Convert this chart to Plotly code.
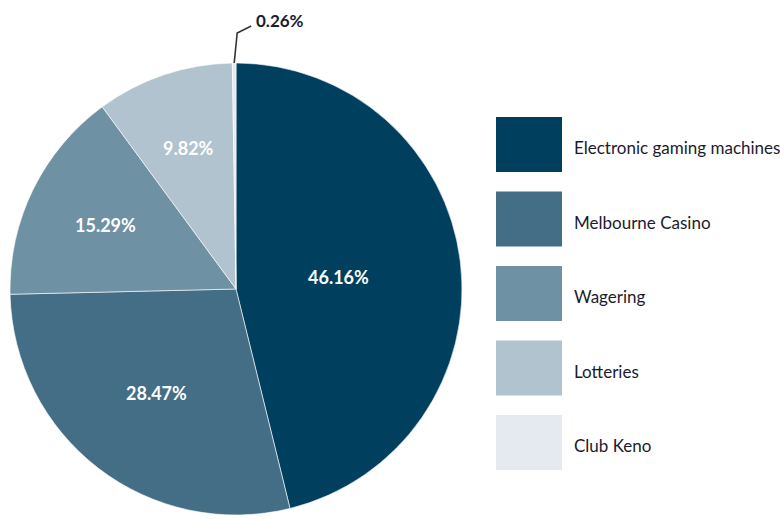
import math
import plotly.graph_objects as go

categories = ["Electronic gaming machines", "Melbourne Casino", "Wagering", "Lotteries", "Club Keno"]
shares = [46.16, 28.47, 15.29, 9.82, 0.26]
colors = ["#003f5e", "#436e86", "#6e91a4", "#b1c3ce", "#e4eaef"]

W, H = 780, 519
CX, CY, R = 236, 289, 226  # pie centre / radius in pixels

total = sum(shares)

fig = go.Figure()
fig.add_trace(go.Pie(
    labels=categories, values=shares, sort=False, direction="clockwise", rotation=0,
    marker=dict(colors=colors, line=dict(color="white", width=0.6)),
    textinfo="none",
    domain=dict(x=[(CX - R) / W, (CX + R) / W], y=[(H - CY - R) / H, (H - CY + R) / H]),
    showlegend=False, hoverinfo="label+value",
))

shapes, annotations = [], []
# percentage labels at slice centroids (computed from the data)
cum = 0.0
for v in shares:
    theta = v / total * 2 * math.pi
    mid = (cum + v / 2) / total * 2 * math.pi
    cum += v
    if v < 1:
        # leader line for the tiny slice
        x0 = CX + R * math.sin(mid)
        y0 = CY - R * math.cos(mid)
        shapes.append(dict(type="path", xref="x", yref="y",
                           path=f"M {x0:.1f},{y0:.1f} L {x0+3:.1f},{y0-30:.1f} L {x0+17:.1f},{y0-37:.1f}",
                           line=dict(color="#333333", width=1.6)))
        annotations.append(dict(x=x0 + 20, y=y0 - 43, xref="x", yref="y", text=f"{v:.2f}%",
                                showarrow=False, xanchor="left", yanchor="middle",
                                font=dict(family="Lato", size=17, color="#1b1b2e", weight="bold")))
        continue
    d = R * (4 * math.sin(theta / 2)) / (3 * theta)
    annotations.append(dict(x=CX + d * math.sin(mid), y=CY - d * math.cos(mid), xref="x", yref="y",
                            text=f"{v:.2f}%", showarrow=False, xanchor="center", yanchor="middle",
                            font=dict(family="Lato", size=18, color="white", weight="bold")))

# custom legend with large swatches
LX0, LX1, LY0, LSTEP, LH = 496, 562, 117, 74.5, 55
for i, (cat, col) in enumerate(zip(categories, colors)):
    top = LY0 + i * LSTEP
    shapes.append(dict(type="rect", xref="x", yref="y", x0=LX0, x1=LX1, y0=top, y1=top + LH,
                       fillcolor=col, line=dict(width=0)))
    annotations.append(dict(x=572, y=top + LH / 2 + 3, xref="x", yref="y", text=cat,
                            showarrow=False, xanchor="left", yanchor="middle",
                            font=dict(family="Lato", size=17, color="#1b1b2e")))

fig.update_layout(
    width=W, height=H, margin=dict(l=0, r=0, t=0, b=0),
    paper_bgcolor="white", plot_bgcolor="white",
    xaxis=dict(range=[0, W], visible=False, domain=[0, 1], fixedrange=True),
    yaxis=dict(range=[H, 0], visible=False, domain=[0, 1], fixedrange=True),
    shapes=shapes, annotations=annotations,
)
fig.write_html("out.html", config={"displayModeBar": False},
               post_script="document.body.style.margin='0';document.body.style.overflow='hidden';")
